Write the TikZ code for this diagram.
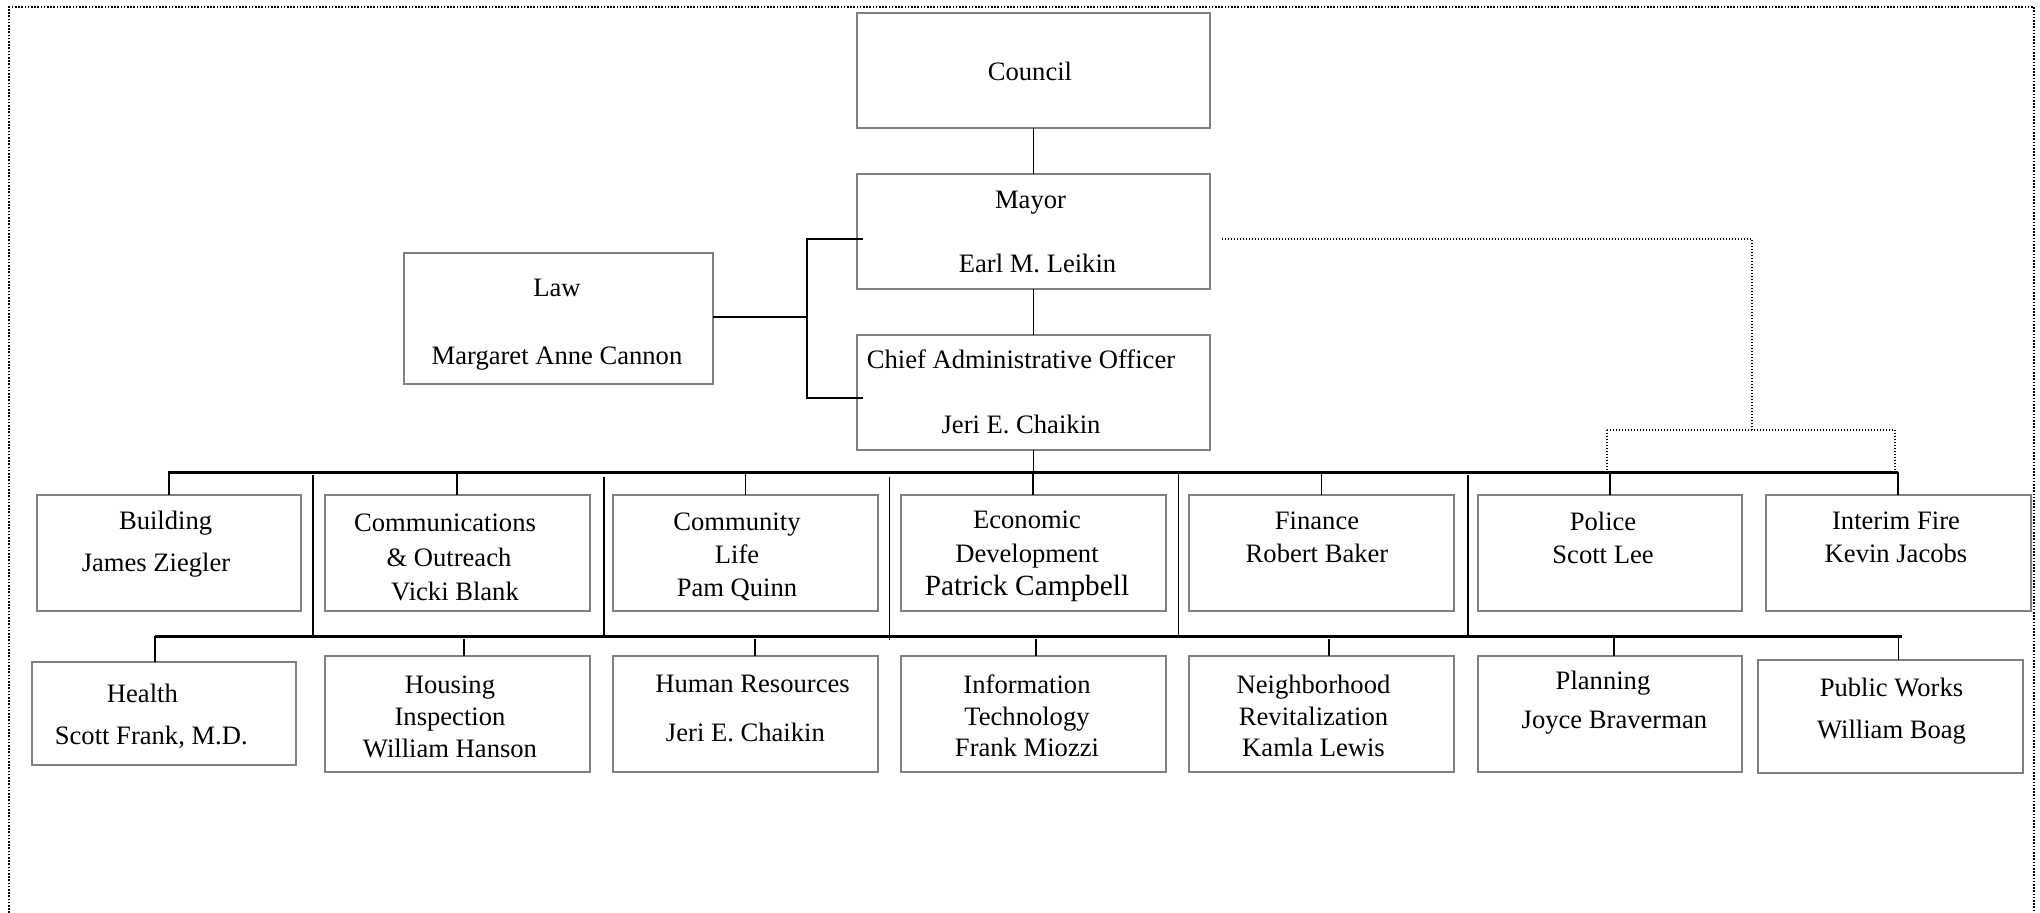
\documentclass[tikz,border=0pt]{standalone}
\usepackage{fontspec}
\setmainfont{Liberation Serif}
\newcommand\orgbx[5]{\node[obox, minimum width={(#4-#2)*0.5pt}, minimum height={(#5-#3)*0.5pt}] (#1) at ({(#2+#4)/2},{(#3+#5)/2}) {};}
\begin{document}
\begin{tikzpicture}[x=0.5pt,y=-0.5pt,
  obox/.style={draw=black!50, line width=1pt, inner sep=0pt, outer sep=0pt},
  txt/.style={align=center, inner sep=0pt, font=\fontsize{13.3}{#1}\selectfont},
  txt/.default=16.5,
  link/.style={line width=0.9pt, draw=black},
  bus/.style={line width=1.1pt, draw=black},
  dotlink/.style={line width=0.6pt, dash pattern=on 0.6pt off 0.9pt},
  frame/.style={line width=0.8pt, dash pattern=on 0.8pt off 0.8pt}]
\useasboundingbox (0,0) rectangle (2040,913);
% outer frame
\draw[frame] (9,913) -- (9,7) -- (2034,7) -- (2034,913);

% boxes
\orgbx{council}{857}{13}{1210}{128}
\orgbx{mayor}{857}{174}{1210}{289}
\orgbx{cao}{857}{335}{1210}{450}
\orgbx{law}{404}{253}{713}{384}
\orgbx{building}{36.5}{495}{301}{611}
\orgbx{comm}{325}{495}{589.5}{611}
\orgbx{community}{613}{495}{878}{611}
\orgbx{econ}{901}{495}{1165.5}{611}
\orgbx{finance}{1189}{495}{1454}{611}
\orgbx{police}{1477.5}{495}{1742}{611}
\orgbx{fire}{1766}{495}{2030.5}{611}
\orgbx{health}{31.5}{662}{295.5}{765}
\orgbx{housing}{325}{656}{589.5}{772}
\orgbx{hr}{613}{656}{878}{772}
\orgbx{it}{901}{656}{1165.5}{772}
\orgbx{nbr}{1189}{656}{1454}{772}
\orgbx{planning}{1477.5}{656}{1742}{772}
\orgbx{pw}{1758}{660}{2023}{773}

% texts
\node[txt] (council-t) at (1030,71) {Council};
\node[txt=32] (mayor-t) at (1037.5,232) {Mayor\kern7pt\\Earl M. Leikin};
\node[txt=32.5] (cao-t) at (1021,392) {Chief Administrative Officer\\Jeri E. Chaikin};
\node[txt=34] (law-t) at (557,325) {Law\\Margaret Anne Cannon};
\node[txt=21] (building-t) at (156,544) {\kern9.6pt Building\\James Ziegler};
\node[txt=17.25] (comm-t) at (445,557.5) {Communications\\\kern4pt\& Outreach\\\kern10pt Vicki Blank};
\node[txt=16.5] (community-t) at (737,556.5) {Community\\Life\\Pam Quinn};
\node[txt=16.75] (econ-t) at (1027,556.5) {Economic\\Development\\{\fontsize{14.65}{16.75}\selectfont Patrick Campbell}};
\node[txt=16.2] (finance-t) at (1317,537.5) {Finance\\Robert Baker};
\node[txt=16.5] (police-t) at (1603,537.5) {Police\\Scott Lee};
\node[txt=16.3] (fire-t) at (1896,537.5) {Interim Fire\\Kevin Jacobs};
\node[txt=21] (health-t) at (151.3,716) {Health\kern8.9pt\\Scott Frank, M.D.};
\node[txt=16] (housing-t) at (450,716.5) {Housing\\Inspection\\William Hanson};
\node[txt=24.5] (hr-t) at (745.4,708) {\kern7.2pt Human Resources\\Jeri E. Chaikin};
\node[txt=15.85] (it-t) at (1027,716) {Information\\Technology\\Frank Miozzi};
\node[txt=15.85] (nbr-t) at (1313.5,716) {Neighborhood\\Revitalization\\Kamla Lewis};
\node[txt=19.5] (planning-t) at (1614.4,703) {Planning\kern11.4pt\\Joyce Braverman};
\node[txt=20.85] (pw-t) at (1891.5,711) {Public Works\\William Boag};

% top chain
\draw[link] (council) -- (mayor);
\draw[link] (mayor) -- (cao);

% law bracket
\coordinate (brkT) at (807,239);
\coordinate (brkB) at (807,398);
\draw[link] ([xshift=28]brkT) -- (brkT) -- (brkB) -- ([xshift=28]brkB);
\draw[link] (law.east |- 0,317) -- (brkT |- 0,317);

% first bus
\coordinate (bus1L) at (168,472.5);
\coordinate (bus1R) at (1898,472.5);
\draw[link] (cao.south) -- (cao.south |- bus1L);
\draw[bus] (bus1L) -- (bus1R);
\foreach \b in {building,comm,community,econ,finance,police,fire}
  \draw[link] (\b.north |- bus1L) -- (\b.north);

% separators between bus 1 and bus 2
\foreach \i/\x/\ya/\yb in {1/313/475/638, 2/604/477/636, 3/889.5/477/640, 4/1178.5/473/636, 5/1468/475/636}{
  \coordinate (s\i t) at (\x,\ya);
  \coordinate (s\i b) at (\x,\yb);
  \draw[link] (s\i t) -- (s\i b);
}

% second bus
\coordinate (bus2L) at (155,636.5);
\coordinate (bus2R) at (1902,636.5);
\draw[bus] (bus2L) -- (bus2R);
\coordinate (dhealth) at (155,636.5);
\coordinate (dhousing) at (464,639);
\coordinate (dhr) at (755,639);
\coordinate (dit) at (1036,639);
\coordinate (dnbr) at (1329,639);
\coordinate (dplanning) at (1614,637);
\coordinate (dpw) at (1898.5,637);
\foreach \b in {health,housing,hr,it,nbr,planning,pw}
  \draw[link] (d\b) -- (d\b |- \b.north);

% dotted mayor link to police and fire
\coordinate (dm) at (1222,239);
\coordinate (dc) at (1752,239);
\coordinate (dj) at (1752,430);
\coordinate (dpL) at (1607,430);
\coordinate (dpR) at (1895,430);
\draw[dotlink] (dm) -- (dc) -- (dj);
\draw[dotlink] (dpL) -- (dpR);
\draw[dotlink] (dpL) -- (dpL |- bus1L);
\draw[dotlink] (dpR) -- (dpR |- bus1L);
\end{tikzpicture}
\end{document}
